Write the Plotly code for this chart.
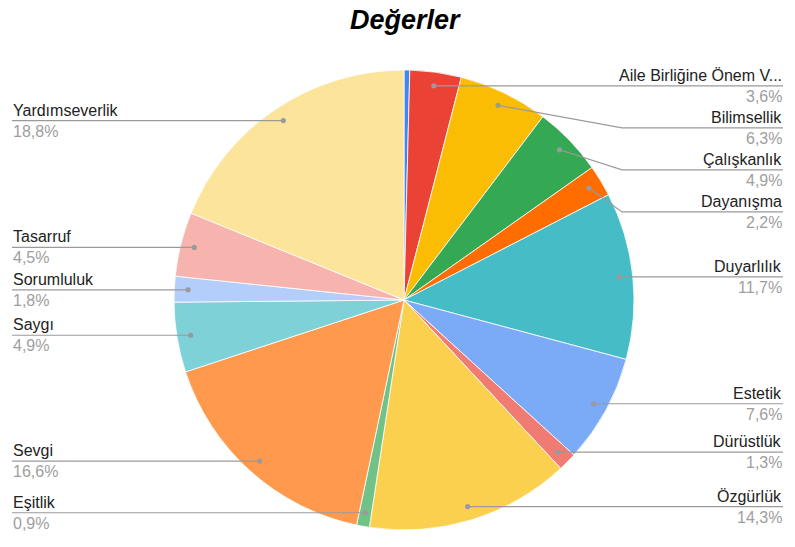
import math
import plotly.graph_objects as go

W, H = 795, 547

labels = ["Adalet", "Aile Birliğine Önem Verme", "Bilimsellik", "Çalışkanlık", "Dayanışma",
          "Duyarlılık", "Estetik", "Dürüstlük", "Özgürlük", "Eşitlik", "Sevgi", "Saygı",
          "Sorumluluk", "Tasarruf", "Yardımseverlik"]
values = [0.4, 3.6, 6.3, 4.9, 2.2, 11.7, 7.6, 1.3, 14.3, 0.9, 16.6, 4.9, 1.8, 4.5, 18.8]
short_labels = ["", "Aile Birliğine Önem V...", "Bilimsellik", "Çalışkanlık", "Dayanışma",
                "Duyarlılık", "Estetik", "Dürüstlük", "Özgürlük", "Eşitlik", "Sevgi", "Saygı",
                "Sorumluluk", "Tasarruf", "Yardımseverlik"]
colors = ["#4285F4", "#EA4335", "#FBBC04", "#34A853", "#FF6D01", "#46BDC6", "#7BAAF7",
          "#F07B72", "#FCD04F", "#71C287", "#FF994D", "#7ED1D7", "#B3CEFB", "#F7B4AE", "#FDE49B"]

# pie geometry in pixels
CX, CY, R = 404, 300, 230


def px(x):
    return x / W


def py(y):
    return 1 - y / H


fig = go.Figure()
fig.add_trace(go.Pie(
    labels=labels, values=values, sort=False, direction="clockwise", rotation=0,
    marker=dict(colors=colors, line=dict(color="white", width=0.8)),
    textinfo="none", hoverinfo="label+percent", showlegend=False,
    domain=dict(x=[px(CX - R), px(CX + R)], y=[py(CY + R), py(CY - R)]),
))

total = sum(values)
cum = 0
items = []
for lab, short, v in zip(labels, short_labels, values):
    mid = (cum + v / 2) / total
    cum += v
    if not short:
        continue
    th = 2 * math.pi * mid
    dx = CX + 0.94 * R * math.sin(th)
    dy = CY - 0.94 * R * math.cos(th)
    items.append(dict(name=short, pct=v / total, x=dx, y=dy, right=dx >= CX))

shapes = []
annotations = []
TOP, BOT, GAP = 77, 521, 42
FONT = "Liberation Sans, Arial"
for side in (True, False):
    grp = sorted([it for it in items if it["right"] == side], key=lambda d: d["y"])
    ys = []
    for it in grp:
        y = max(it["y"], TOP if not ys else ys[-1] + GAP)
        ys.append(y)
    if ys and ys[-1] > BOT:
        ys[-1] = BOT
        for i in range(len(ys) - 2, -1, -1):
            ys[i] = min(ys[i], ys[i + 1] - GAP)
    for it, ly in zip(grp, ys):
        if side:
            bend, end, xa, anc = CX + 218, 783, 783, "right"
        else:
            bend, end, xa, anc = CX - 218, 12, 12, "left"
        shapes.append(dict(type="path", xref="paper", yref="paper",
                           path=f"M{px(it['x'])},{py(it['y'])} L{px(bend)},{py(ly)} L{px(end)},{py(ly)}",
                           line=dict(color="#9a9a9a", width=1.2)))
        shapes.append(dict(type="circle", xref="paper", yref="paper",
                           x0=px(it['x'] - 2.6), x1=px(it['x'] + 2.6),
                           y0=py(it['y'] + 2.6), y1=py(it['y'] - 2.6),
                           fillcolor="#9a9a9a", line=dict(width=0)))
        annotations.append(dict(xref="paper", yref="paper", x=px(xa), y=py(ly - 1),
                                xanchor=anc, yanchor="bottom", showarrow=False,
                                text=it["name"], borderpad=0,
                                font=dict(family=FONT, size=16, color="#222222")))
        pct_txt = f"{it['pct'] * 100:.1f}".replace(".", ",") + "%"
        annotations.append(dict(xref="paper", yref="paper", x=px(xa), y=py(ly + 1),
                                xanchor=anc, yanchor="top", showarrow=False,
                                text=pct_txt, borderpad=0,
                                font=dict(family=FONT, size=16, color="#9e9e9e")))

annotations.append(dict(xref="paper", yref="paper", x=px(405), y=py(20), xanchor="center",
                        yanchor="middle", showarrow=False, text="<b><i>Değerler</i></b>",
                        font=dict(family=FONT, size=27, color="#000000")))

fig.update_layout(
    width=W, height=H, margin=dict(l=0, r=0, t=0, b=0),
    paper_bgcolor="white", plot_bgcolor="white",
    shapes=shapes, annotations=annotations, separators=",.",
)
fig.write_html("out.html", config={"displayModeBar": False},
               post_script="document.body.style.margin='0';")
